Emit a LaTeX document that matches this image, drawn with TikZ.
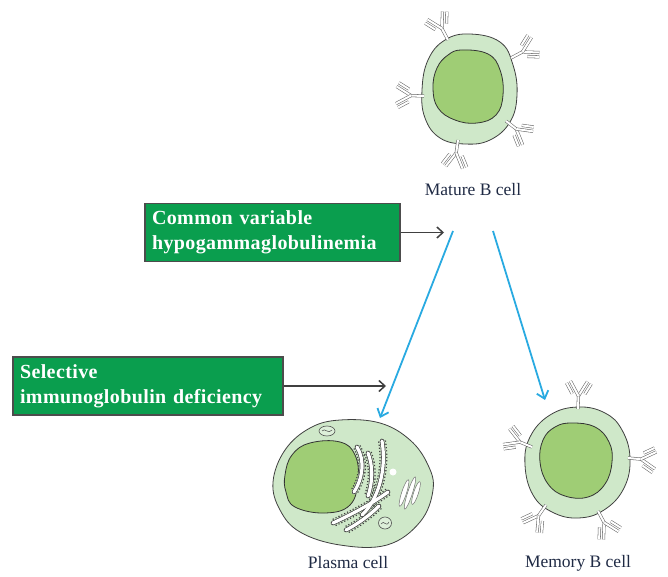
\documentclass[tikz,border=0pt]{standalone}
\usepackage{fontspec}
\setmainfont{Liberation Serif}
\newfontfamily\boxfont[LetterSpace=2]{Liberation Serif}
\usetikzlibrary{arrows.meta, positioning, calc}

\definecolor{boxgreen}{HTML}{0A9E4E}
\definecolor{cellgreen}{HTML}{CFE8C9}
\definecolor{nucgreen}{HTML}{9FCD75}
\definecolor{arrowblue}{HTML}{29AAE1}
\definecolor{labelblue}{HTML}{1F2A44}

\tikzset{
  antibody/.pic={
    \draw[abline] (0,0) -- (13,0);
    \draw[abline] (13,0) -- ++(30:17);
    \draw[abline] (13,0) -- ++(-30:17);
    \draw[abline] ($(13,0)+(30:5)+(120:4.4)$) -- ++(30:12);
    \draw[abline] ($(13,0)+(-30:5)+(-120:4.4)$) -- ++(-30:12);
  }
}

\begin{document}
\begin{tikzpicture}[
    x=1pt, y=-1pt,
    abline/.style={draw=black!60, double=white, double distance=2pt, line width=0.55pt},
    cell/.style={draw=black!75, fill=cellgreen, line width=0.8pt},
    nucleus/.style={draw=black!80, fill=nucgreen, line width=0.8pt},
    box/.style={rectangle, draw=black!70, line width=1.2pt, fill=boxgreen, text=white,
        font=\boxfont\bfseries\fontsize{20}{25}\selectfont, align=left, inner xsep=7pt,
        minimum height=58pt},
    lbl/.style={text=labelblue, font=\fontsize{17.5}{20}\selectfont},
    arrow/.style={-{Straight Barb[length=6pt, width=11pt]}, line width=1.5pt, black!75},
    bluearrow/.style={-{Straight Barb[length=7pt, width=12pt]}, line width=1.8pt, arrowblue},
    erdots/.style={black!75, line width=8pt, dash pattern=on 1.2pt off 2pt},
    ergap/.style={cellgreen, line width=5.4pt, line cap=round},
    eredge/.style={black!75, line width=4.6pt, line cap=round},
    erbody/.style={white, line width=3.2pt, line cap=round}
]
\useasboundingbox (0,0) rectangle (668,577);

% Mature B cell
\draw[cell] plot[smooth cycle, tension=0.7] coordinates {(470,34) (500,42) (513,65) (517,95) (510,122) (490,140) (465,144) (440,138) (425,118) (422,90) (428,60) (445,40)};
\draw[nucleus] plot[smooth cycle, tension=0.7] coordinates {(462,50) (488,54) (500,70) (503,95) (496,115) (477,123) (455,120) (438,108) (433,88) (437,68) (448,55)};
\foreach \x/\y/\a in {448/40/118, 511/58/28, 424/96/178, 506/121/-38, 458/140/-98}
  \pic[rotate=\a] at (\x,\y) {antibody};
\node[lbl] (mature) at (473,190) {Mature B cell};

% Memory B cell
\draw[cell] plot[smooth cycle, tension=0.7] coordinates {(578,407) (605,413) (622,430) (630,458) (624,488) (604,510) (578,518) (552,512) (533,495) (525,465) (530,437) (550,415)};
\draw[nucleus] plot[smooth cycle, tension=0.7] coordinates {(572,423) (595,427) (609,442) (612,462) (605,484) (588,497) (565,496) (548,484) (540,462) (543,440) (555,427)};
\foreach \x/\y/\a in {578/409/88, 532/447/158, 628/458/-5, 546/505/-125, 598/511/-62}
  \pic[rotate=\a] at (\x,\y) {antibody};
\node[lbl] (memory) at (578,563) {Memory B cell};

% Plasma cell
\draw[cell] plot[smooth cycle, tension=0.65] coordinates {(273,482) (285,450) (310,428) (340,420) (380,423) (410,440) (428,465) (433,490) (420,522) (387,545) (340,545) (300,532) (280,510)};
\draw[nucleus] plot[smooth cycle, tension=0.7] coordinates {(285,475) (292,455) (310,443) (340,442) (355,455) (358,480) (350,505) (325,513) (295,507) (286,492)};
\foreach \s in {erdots, ergap, eredge, erbody}{
  \draw[\s] (382,441) .. controls (387,470) and (378,500) .. (362,515);
  \draw[\s] (357,447) .. controls (365,460) and (363,478) .. (354,492);
  \draw[\s] (368,453) .. controls (373,466) and (373,481) .. (368,496);
  \draw[\s] (388,492) .. controls (370,505) and (350,515) .. (333,523);
  \draw[\s] (379,506) .. controls (369,516) and (356,525) .. (346,530);
}
\fill[white] (393,472) circle (3.5);
\foreach \x/\r in {404/14, 410/17, 416/12}
  \draw[black!55, fill=white, line width=0.5pt, rotate around={-18:(\x,493)}] (\x,493) ellipse (2.4 and \r);
\draw[black!70, fill=cellgreen!70!white, line width=0.6pt] (327,431) ellipse (8 and 5);
\draw[black!70, line width=0.5pt] (322,431) .. controls (325,427) and (328,435) .. (332,430);
\draw[black!70, fill=cellgreen!70!white, line width=0.6pt] (385,523) ellipse (6.5 and 6);
\draw[black!70, line width=0.5pt] (381,524) .. controls (384,519) and (386,528) .. (389,522);
\node[lbl] (plasma) at (348,563) {Plasma cell};

% disorders
\node[box, text width=241pt] (cvid) at (272.5,232.5) {Common variable\\hypogammaglobulinemia};
\node[box, text width=256pt] (sigd) at (148,386) {Selective\\immunoglobulin deficiency};

\coordinate (cvidtip) at (444,232.5);
\coordinate (sigdtip) at (386,386);
\draw[arrow] (cvid.east) -- (cvidtip);
\draw[arrow] (sigd.east) -- (sigdtip);

% differentiation
\coordinate (split1) at (453,231);
\coordinate (split2) at (493,231);
\coordinate (toplasma) at (380,418);
\coordinate (tomemory) at (545,400);
\draw[bluearrow] (split1) -- (toplasma);
\draw[bluearrow] (split2) -- (tomemory);
\end{tikzpicture}
\end{document}
